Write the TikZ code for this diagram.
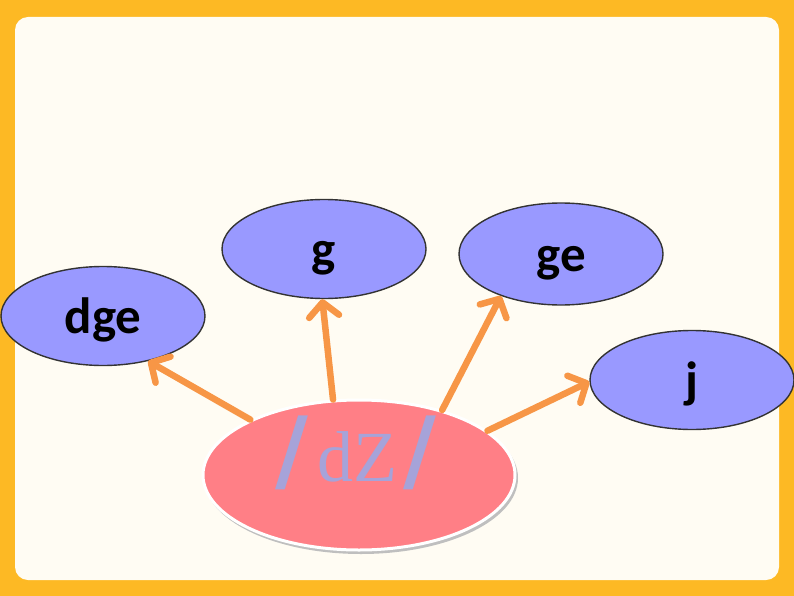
\documentclass[tikz,border=0pt]{standalone}
\usepackage{fontspec}
\setmainfont{Carlito}
\newfontfamily\serifipa{Liberation Serif}
\newfontfamily\slashfont{DejaVu Sans}
\usetikzlibrary{shapes.geometric,arrows.meta}
\definecolor{frameorange}{HTML}{FDB924}
\definecolor{panelcream}{HTML}{FFFCF3}
\definecolor{bubbleblue}{HTML}{9999FF}
\definecolor{bubblepink}{HTML}{FF7F86}
\definecolor{arroworange}{HTML}{F79646}
\definecolor{ipalav}{HTML}{A6A3D9}
\tikzset{
  bubble/.style={ellipse, draw=black!80, line width=1.4pt, fill=bubbleblue,
    minimum width=204pt, minimum height=99pt, inner sep=0pt,
    text height=34pt, text depth=0pt,
    font=\fontsize{51}{51}\selectfont\bfseries},
  link/.style={draw=arroworange, line width=6.5pt, line cap=round,
    -{Straight Barb[length=14pt,width=30pt,line cap=round,line join=round]}},
}
\begin{document}
\begin{tikzpicture}[x=1pt,y=-1pt]
\useasboundingbox (0,0) rectangle (794,596);
\fill[frameorange] (0,0) rectangle (794,596);
\fill[panelcream, rounded corners=13pt] (15,17) rectangle (779,580);
% bubbles
\node[bubble] (dge) at (103,316) {dge};
\node[bubble] (g) at (324,249) {g};
\node[bubble, minimum height=102pt] (ge) at (561,254) {ge};
\node[bubble] (j) at (692,380) {j};
% central ellipse
\fill[black!25] (361,478) ellipse [x radius=157pt, y radius=76pt];
\node[ellipse, draw=white, line width=3pt, fill=bubblepink,
  minimum width=312pt, minimum height=150pt, inner sep=0pt] (dz) at (359,475) {};
\node[text=ipalav, inner sep=0pt] (ipa) at (356,453)
  {\slashfont\bfseries\fontsize{90}{90}\selectfont/\hspace{9pt}{\serifipa\mdseries\fontsize{72}{72}\selectfont dZ}\hspace{6pt}/};
% arrows
\draw[link] (dz.153) -- (dge.-45);
\draw[link] (dz.109) -- (g.-92);
\draw[link] (dz.38) -- (ge.215);
\draw[link] (dz.19) -- (j.181);
\end{tikzpicture}
\end{document}
